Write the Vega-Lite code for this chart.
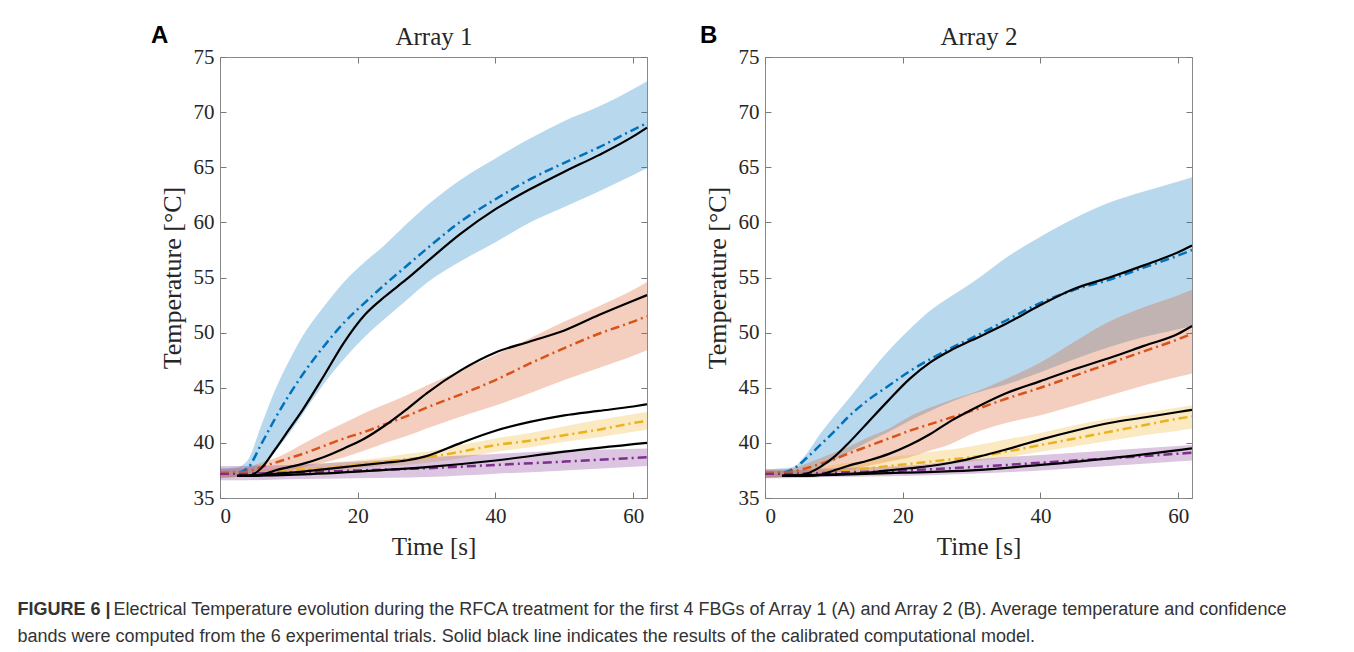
{
  "$schema": "https://vega.github.io/schema/vega-lite/v6.json",
  "background": "white",
  "padding": {"left": 17, "top": 23, "right": 10, "bottom": 6},
  "config": {
    "view": {"stroke": "#8a8a8a", "strokeWidth": 1},
    "axis": {
      "grid": false, "domain": false,
      "labelFont": "Liberation Serif", "titleFont": "Liberation Serif",
      "labelFontSize": 21, "titleFontSize": 25, "titleFontWeight": "normal",
      "labelColor": "#262626", "titleColor": "#262626",
      "tickColor": "#7a7a7a", "tickSize": -6, "tickWidth": 1, "labelPadding": 13
    }
  },
  "datasets": {
    "d": [
      {"p":"A","s":"FBG1","t":0,"lo":36.8,"hi":37.7,"m":37.2,"c":null},
      {"p":"A","s":"FBG1","t":2.5,"lo":36.9,"hi":37.8,"m":37.3,"c":37.0},
      {"p":"A","s":"FBG1","t":4,"lo":37.1,"hi":38.4,"m":37.7,"c":37.0},
      {"p":"A","s":"FBG1","t":6,"lo":37.8,"hi":41.6,"m":39.9,"c":37.7},
      {"p":"A","s":"FBG1","t":8,"lo":39.2,"hi":44.8,"m":42.2,"c":39.4},
      {"p":"A","s":"FBG1","t":10,"lo":40.8,"hi":47.4,"m":44.3,"c":41.2},
      {"p":"A","s":"FBG1","t":12,"lo":42.6,"hi":49.7,"m":46.2,"c":43.0},
      {"p":"A","s":"FBG1","t":15,"lo":45.3,"hi":52.3,"m":48.7,"c":46.0},
      {"p":"A","s":"FBG1","t":18,"lo":47.6,"hi":54.6,"m":50.9,"c":49.1},
      {"p":"A","s":"FBG1","t":21,"lo":49.6,"hi":56.4,"m":52.7,"c":51.6},
      {"p":"A","s":"FBG1","t":24,"lo":51.3,"hi":58.0,"m":54.4,"c":53.3},
      {"p":"A","s":"FBG1","t":27,"lo":52.9,"hi":59.8,"m":56.0,"c":54.8},
      {"p":"A","s":"FBG1","t":30,"lo":54.5,"hi":61.5,"m":57.6,"c":56.4},
      {"p":"A","s":"FBG1","t":35,"lo":56.5,"hi":63.9,"m":60.1,"c":59.0},
      {"p":"A","s":"FBG1","t":40,"lo":58.2,"hi":65.8,"m":62.1,"c":61.2},
      {"p":"A","s":"FBG1","t":45,"lo":60.0,"hi":67.6,"m":63.9,"c":63.0},
      {"p":"A","s":"FBG1","t":50,"lo":61.4,"hi":69.2,"m":65.4,"c":64.6},
      {"p":"A","s":"FBG1","t":55,"lo":62.8,"hi":70.5,"m":66.8,"c":66.1},
      {"p":"A","s":"FBG1","t":60,"lo":64.3,"hi":72.1,"m":68.4,"c":67.8},
      {"p":"A","s":"FBG1","t":62,"lo":64.9,"hi":72.8,"m":69.0,"c":68.6},

      {"p":"A","s":"FBG2","t":0,"lo":36.9,"hi":37.6,"m":37.3,"c":null},
      {"p":"A","s":"FBG2","t":2.5,"lo":36.9,"hi":37.7,"m":37.3,"c":37.0},
      {"p":"A","s":"FBG2","t":4,"lo":37.0,"hi":37.8,"m":37.4,"c":37.0},
      {"p":"A","s":"FBG2","t":6,"lo":37.1,"hi":38.2,"m":37.8,"c":37.1},
      {"p":"A","s":"FBG2","t":8,"lo":37.3,"hi":38.6,"m":38.2,"c":37.5},
      {"p":"A","s":"FBG2","t":10,"lo":37.5,"hi":39.2,"m":38.6,"c":37.8},
      {"p":"A","s":"FBG2","t":12,"lo":37.8,"hi":39.9,"m":39.0,"c":38.1},
      {"p":"A","s":"FBG2","t":15,"lo":38.2,"hi":40.9,"m":39.7,"c":38.7},
      {"p":"A","s":"FBG2","t":18,"lo":38.7,"hi":41.8,"m":40.4,"c":39.5},
      {"p":"A","s":"FBG2","t":21,"lo":39.3,"hi":42.7,"m":41.0,"c":40.4},
      {"p":"A","s":"FBG2","t":24,"lo":40.0,"hi":43.5,"m":41.7,"c":41.6},
      {"p":"A","s":"FBG2","t":27,"lo":40.6,"hi":44.3,"m":42.4,"c":43.0},
      {"p":"A","s":"FBG2","t":30,"lo":41.3,"hi":45.2,"m":43.2,"c":44.5},
      {"p":"A","s":"FBG2","t":35,"lo":42.4,"hi":46.6,"m":44.4,"c":46.6},
      {"p":"A","s":"FBG2","t":40,"lo":43.4,"hi":48.0,"m":45.7,"c":48.2},
      {"p":"A","s":"FBG2","t":45,"lo":44.5,"hi":49.5,"m":47.2,"c":49.2},
      {"p":"A","s":"FBG2","t":50,"lo":45.7,"hi":51.0,"m":48.6,"c":50.2},
      {"p":"A","s":"FBG2","t":55,"lo":46.8,"hi":52.4,"m":49.9,"c":51.6},
      {"p":"A","s":"FBG2","t":60,"lo":47.9,"hi":53.9,"m":51.0,"c":52.9},
      {"p":"A","s":"FBG2","t":62,"lo":48.4,"hi":54.6,"m":51.5,"c":53.4},

      {"p":"A","s":"FBG3","t":0,"lo":36.9,"hi":37.5,"m":37.2,"c":null},
      {"p":"A","s":"FBG3","t":2.5,"lo":36.9,"hi":37.5,"m":37.2,"c":37.0},
      {"p":"A","s":"FBG3","t":4,"lo":36.9,"hi":37.5,"m":37.2,"c":37.0},
      {"p":"A","s":"FBG3","t":8,"lo":37.0,"hi":37.7,"m":37.4,"c":37.2},
      {"p":"A","s":"FBG3","t":12,"lo":37.2,"hi":37.9,"m":37.6,"c":37.4},
      {"p":"A","s":"FBG3","t":15,"lo":37.3,"hi":38.1,"m":37.7,"c":37.6},
      {"p":"A","s":"FBG3","t":18,"lo":37.5,"hi":38.3,"m":37.9,"c":37.8},
      {"p":"A","s":"FBG3","t":21,"lo":37.7,"hi":38.5,"m":38.1,"c":38.0},
      {"p":"A","s":"FBG3","t":24,"lo":37.9,"hi":38.7,"m":38.3,"c":38.2},
      {"p":"A","s":"FBG3","t":27,"lo":38.0,"hi":39.0,"m":38.5,"c":38.4},
      {"p":"A","s":"FBG3","t":30,"lo":38.2,"hi":39.2,"m":38.7,"c":38.8},
      {"p":"A","s":"FBG3","t":35,"lo":38.6,"hi":39.8,"m":39.2,"c":40.0},
      {"p":"A","s":"FBG3","t":40,"lo":39.2,"hi":40.4,"m":39.8,"c":41.1},
      {"p":"A","s":"FBG3","t":45,"lo":39.6,"hi":40.9,"m":40.2,"c":41.9},
      {"p":"A","s":"FBG3","t":50,"lo":40.1,"hi":41.5,"m":40.7,"c":42.5},
      {"p":"A","s":"FBG3","t":55,"lo":40.5,"hi":42.1,"m":41.2,"c":42.9},
      {"p":"A","s":"FBG3","t":60,"lo":41.0,"hi":42.6,"m":41.8,"c":43.3},
      {"p":"A","s":"FBG3","t":62,"lo":41.2,"hi":42.8,"m":42.0,"c":43.5},

      {"p":"A","s":"FBG4","t":0,"lo":36.6,"hi":37.9,"m":37.2,"c":null},
      {"p":"A","s":"FBG4","t":2.5,"lo":36.6,"hi":37.9,"m":37.2,"c":37.0},
      {"p":"A","s":"FBG4","t":10,"lo":36.7,"hi":38.0,"m":37.3,"c":37.1},
      {"p":"A","s":"FBG4","t":20,"lo":36.8,"hi":38.3,"m":37.5,"c":37.4},
      {"p":"A","s":"FBG4","t":30,"lo":36.9,"hi":38.7,"m":37.7,"c":37.8},
      {"p":"A","s":"FBG4","t":40,"lo":37.2,"hi":39.0,"m":38.0,"c":38.4},
      {"p":"A","s":"FBG4","t":50,"lo":37.5,"hi":39.3,"m":38.3,"c":39.2},
      {"p":"A","s":"FBG4","t":62,"lo":37.9,"hi":39.5,"m":38.7,"c":40.0},

      {"p":"B","s":"FBG1","t":0,"lo":36.8,"hi":37.6,"m":37.2,"c":null},
      {"p":"B","s":"FBG1","t":2.5,"lo":36.9,"hi":37.7,"m":37.3,"c":37.0},
      {"p":"B","s":"FBG1","t":4,"lo":37.0,"hi":37.8,"m":37.6,"c":37.0},
      {"p":"B","s":"FBG1","t":6,"lo":37.3,"hi":39.0,"m":38.6,"c":37.2},
      {"p":"B","s":"FBG1","t":8,"lo":37.8,"hi":40.8,"m":39.8,"c":37.8},
      {"p":"B","s":"FBG1","t":10,"lo":38.4,"hi":42.4,"m":41.0,"c":38.7},
      {"p":"B","s":"FBG1","t":12,"lo":39.1,"hi":43.9,"m":42.3,"c":39.9},
      {"p":"B","s":"FBG1","t":15,"lo":40.1,"hi":46.2,"m":43.9,"c":41.9},
      {"p":"B","s":"FBG1","t":18,"lo":41.0,"hi":48.4,"m":45.2,"c":43.9},
      {"p":"B","s":"FBG1","t":21,"lo":42.0,"hi":50.3,"m":46.5,"c":45.8},
      {"p":"B","s":"FBG1","t":24,"lo":42.9,"hi":52.0,"m":47.6,"c":47.3},
      {"p":"B","s":"FBG1","t":27,"lo":43.7,"hi":53.3,"m":48.6,"c":48.4},
      {"p":"B","s":"FBG1","t":30,"lo":44.4,"hi":54.5,"m":49.5,"c":49.3},
      {"p":"B","s":"FBG1","t":35,"lo":45.3,"hi":56.8,"m":51.1,"c":50.8},
      {"p":"B","s":"FBG1","t":40,"lo":46.4,"hi":58.7,"m":52.7,"c":52.5},
      {"p":"B","s":"FBG1","t":45,"lo":47.6,"hi":60.4,"m":53.9,"c":54.0},
      {"p":"B","s":"FBG1","t":50,"lo":48.7,"hi":61.8,"m":54.8,"c":55.0},
      {"p":"B","s":"FBG1","t":55,"lo":49.6,"hi":62.8,"m":55.9,"c":56.1},
      {"p":"B","s":"FBG1","t":60,"lo":50.3,"hi":63.7,"m":57.0,"c":57.3},
      {"p":"B","s":"FBG1","t":62,"lo":50.6,"hi":64.1,"m":57.5,"c":57.9},

      {"p":"B","s":"FBG2","t":0,"lo":36.9,"hi":37.6,"m":37.3,"c":null},
      {"p":"B","s":"FBG2","t":2.5,"lo":36.9,"hi":37.6,"m":37.3,"c":37.0},
      {"p":"B","s":"FBG2","t":4,"lo":37.0,"hi":37.7,"m":37.4,"c":37.0},
      {"p":"B","s":"FBG2","t":6,"lo":37.1,"hi":38.1,"m":37.7,"c":37.0},
      {"p":"B","s":"FBG2","t":8,"lo":37.2,"hi":38.6,"m":38.1,"c":37.1},
      {"p":"B","s":"FBG2","t":10,"lo":37.3,"hi":39.1,"m":38.5,"c":37.5},
      {"p":"B","s":"FBG2","t":12,"lo":37.5,"hi":39.6,"m":39.0,"c":37.9},
      {"p":"B","s":"FBG2","t":15,"lo":37.9,"hi":40.5,"m":39.7,"c":38.4},
      {"p":"B","s":"FBG2","t":18,"lo":38.3,"hi":41.3,"m":40.4,"c":39.0},
      {"p":"B","s":"FBG2","t":21,"lo":38.7,"hi":42.4,"m":41.1,"c":39.8},
      {"p":"B","s":"FBG2","t":24,"lo":39.3,"hi":43.2,"m":41.7,"c":40.8},
      {"p":"B","s":"FBG2","t":27,"lo":39.9,"hi":43.9,"m":42.3,"c":42.0},
      {"p":"B","s":"FBG2","t":30,"lo":40.8,"hi":44.5,"m":42.9,"c":43.0},
      {"p":"B","s":"FBG2","t":35,"lo":41.8,"hi":45.8,"m":44.0,"c":44.5},
      {"p":"B","s":"FBG2","t":40,"lo":42.5,"hi":47.3,"m":45.0,"c":45.6},
      {"p":"B","s":"FBG2","t":45,"lo":43.4,"hi":49.2,"m":46.1,"c":46.7},
      {"p":"B","s":"FBG2","t":50,"lo":44.3,"hi":51.0,"m":47.2,"c":47.7},
      {"p":"B","s":"FBG2","t":55,"lo":45.2,"hi":52.3,"m":48.3,"c":48.8},
      {"p":"B","s":"FBG2","t":60,"lo":46.0,"hi":53.4,"m":49.4,"c":49.9},
      {"p":"B","s":"FBG2","t":62,"lo":46.3,"hi":53.9,"m":49.9,"c":50.6},

      {"p":"B","s":"FBG3","t":0,"lo":36.9,"hi":37.5,"m":37.2,"c":null},
      {"p":"B","s":"FBG3","t":2.5,"lo":36.9,"hi":37.5,"m":37.2,"c":37.0},
      {"p":"B","s":"FBG3","t":8,"lo":37.0,"hi":37.8,"m":37.3,"c":37.1},
      {"p":"B","s":"FBG3","t":12,"lo":37.2,"hi":38.2,"m":37.5,"c":37.2},
      {"p":"B","s":"FBG3","t":15,"lo":37.3,"hi":38.4,"m":37.7,"c":37.3},
      {"p":"B","s":"FBG3","t":18,"lo":37.5,"hi":38.7,"m":37.9,"c":37.5},
      {"p":"B","s":"FBG3","t":21,"lo":37.7,"hi":38.9,"m":38.1,"c":37.7},
      {"p":"B","s":"FBG3","t":24,"lo":37.9,"hi":39.2,"m":38.3,"c":37.9},
      {"p":"B","s":"FBG3","t":27,"lo":38.1,"hi":39.4,"m":38.5,"c":38.2},
      {"p":"B","s":"FBG3","t":30,"lo":38.3,"hi":39.7,"m":38.7,"c":38.6},
      {"p":"B","s":"FBG3","t":35,"lo":38.7,"hi":40.3,"m":39.2,"c":39.4},
      {"p":"B","s":"FBG3","t":40,"lo":39.2,"hi":40.9,"m":39.8,"c":40.3},
      {"p":"B","s":"FBG3","t":45,"lo":39.7,"hi":41.6,"m":40.4,"c":41.1},
      {"p":"B","s":"FBG3","t":50,"lo":40.2,"hi":42.2,"m":41.0,"c":41.8},
      {"p":"B","s":"FBG3","t":55,"lo":40.7,"hi":42.7,"m":41.6,"c":42.3},
      {"p":"B","s":"FBG3","t":60,"lo":41.1,"hi":43.2,"m":42.2,"c":42.8},
      {"p":"B","s":"FBG3","t":62,"lo":41.3,"hi":43.4,"m":42.4,"c":43.0},

      {"p":"B","s":"FBG4","t":0,"lo":36.8,"hi":37.5,"m":37.2,"c":null},
      {"p":"B","s":"FBG4","t":2.5,"lo":36.8,"hi":37.5,"m":37.2,"c":37.0},
      {"p":"B","s":"FBG4","t":10,"lo":36.9,"hi":37.7,"m":37.3,"c":37.1},
      {"p":"B","s":"FBG4","t":20,"lo":37.0,"hi":37.9,"m":37.5,"c":37.3},
      {"p":"B","s":"FBG4","t":30,"lo":37.2,"hi":38.5,"m":37.8,"c":37.5},
      {"p":"B","s":"FBG4","t":40,"lo":37.5,"hi":38.9,"m":38.2,"c":38.0},
      {"p":"B","s":"FBG4","t":50,"lo":37.9,"hi":39.3,"m":38.6,"c":38.6},
      {"p":"B","s":"FBG4","t":62,"lo":38.4,"hi":39.8,"m":39.1,"c":39.5}
    ]
  },
  "title": {
    "text": "bands were computed from the 6 experimental trials. Solid black line indicates the results of the calibrated computational model.",
    "orient": "bottom", "anchor": "start", "frame": "bounds", "offset": 9,
    "font": "Liberation Sans", "fontSize": 18, "fontWeight": "normal", "color": "#333333", "baseline": "top"
  },
  "vconcat": [
    {
      "title": {
        "text": "Electrical Temperature evolution during the RFCA treatment for the first 4 FBGs of Array 1 (A) and Array 2 (B). Average temperature and confidence",
        "orient": "bottom", "anchor": "start", "frame": "bounds", "offset": 0, "dx": 96, "dy": -18,
        "font": "Liberation Sans", "fontSize": 18, "fontWeight": "normal", "color": "#333333", "baseline": "top"
      },
      "vconcat": [
        {
          "title": {
            "text": "FIGURE 6 |",
            "orient": "bottom", "anchor": "start", "frame": "bounds", "offset": 41, "dx": -133,
            "font": "Liberation Sans", "fontSize": 18, "fontWeight": "bold", "color": "#333333", "baseline": "top"
          },
          "spacing": 46,
          "hconcat": [
            {
              "width": 427, "height": 441,
              "title": {"text": "A", "anchor": "start", "frame": "group", "dx": -69, "dy": 27, "font": "Liberation Sans", "fontSize": 24, "fontWeight": "bold", "color": "#000000"},
              "data": {"name": "d"},
              "transform": [{"filter": "datum.p == 'A'"}],
              "layer": [
                {
                  "mark": {"type": "area", "opacity": 0.28, "interpolate": "monotone"},
                  "encoding": {
                    "x": {"field": "t", "type": "quantitative", "scale": {"domain": [0, 62], "nice": false, "zero": false},
                          "axis": {"orient": "bottom", "values": [0, 20, 40, 60], "title": "Time [s]", "titlePadding": 8}},
                    "y": {"field": "lo", "type": "quantitative", "scale": {"domain": [35, 75], "nice": false, "zero": false},
                          "axis": {"orient": "left", "values": [35, 40, 45, 50, 55, 60, 65, 70, 75], "title": "Temperature [°C]", "labelPadding": 12, "titlePadding": 8, "titleFontSize": 26}},
                    "y2": {"field": "hi"},
                    "color": {"field": "s", "type": "nominal", "legend": null,
                              "scale": {"domain": ["FBG1", "FBG2", "FBG3", "FBG4"], "range": ["#0072BD", "#D95319", "#EDB120", "#7E2F8E"]}}
                  }
                },
                {
                  "mark": {"type": "line", "strokeWidth": 2.5, "strokeDash": [9, 4, 2, 4], "interpolate": "monotone"},
                  "encoding": {
                    "x": {"field": "t", "type": "quantitative", "axis": {"orient": "top", "values": [0, 20, 40, 60], "labels": false, "title": "Array 1", "titlePadding": 7}},
                    "y": {"field": "m", "type": "quantitative", "axis": {"orient": "right", "values": [35, 40, 45, 50, 55, 60, 65, 70, 75], "labels": false, "title": null}},
                    "color": {"field": "s", "type": "nominal", "legend": null}
                  }
                },
                {
                  "mark": {"type": "line", "color": "#000000", "strokeWidth": 2.2, "interpolate": "monotone"},
                  "encoding": {
                    "x": {"field": "t", "type": "quantitative", "axis": null},
                    "y": {"field": "c", "type": "quantitative", "axis": null},
                    "detail": {"field": "s"}
                  }
                }
              ],
              "resolve": {"axis": {"x": "independent", "y": "independent"}}
            },
            {
              "width": 427, "height": 441,
              "title": {"text": "B", "anchor": "start", "frame": "group", "dx": -65, "dy": 27, "font": "Liberation Sans", "fontSize": 24, "fontWeight": "bold", "color": "#000000"},
              "data": {"name": "d"},
              "transform": [{"filter": "datum.p == 'B'"}],
              "layer": [
                {
                  "mark": {"type": "area", "opacity": 0.28, "interpolate": "monotone"},
                  "encoding": {
                    "x": {"field": "t", "type": "quantitative", "scale": {"domain": [0, 62], "nice": false, "zero": false},
                          "axis": {"orient": "bottom", "values": [0, 20, 40, 60], "title": "Time [s]", "titlePadding": 8}},
                    "y": {"field": "lo", "type": "quantitative", "scale": {"domain": [35, 75], "nice": false, "zero": false},
                          "axis": {"orient": "left", "values": [35, 40, 45, 50, 55, 60, 65, 70, 75], "title": "Temperature [°C]", "labelPadding": 12, "titlePadding": 8, "titleFontSize": 26}},
                    "y2": {"field": "hi"},
                    "color": {"field": "s", "type": "nominal", "legend": null,
                              "scale": {"domain": ["FBG1", "FBG2", "FBG3", "FBG4"], "range": ["#0072BD", "#D95319", "#EDB120", "#7E2F8E"]}}
                  }
                },
                {
                  "mark": {"type": "line", "strokeWidth": 2.5, "strokeDash": [9, 4, 2, 4], "interpolate": "monotone"},
                  "encoding": {
                    "x": {"field": "t", "type": "quantitative", "axis": {"orient": "top", "values": [0, 20, 40, 60], "labels": false, "title": "Array 2", "titlePadding": 7}},
                    "y": {"field": "m", "type": "quantitative", "axis": {"orient": "right", "values": [35, 40, 45, 50, 55, 60, 65, 70, 75], "labels": false, "title": null}},
                    "color": {"field": "s", "type": "nominal", "legend": null}
                  }
                },
                {
                  "mark": {"type": "line", "color": "#000000", "strokeWidth": 2.2, "interpolate": "monotone"},
                  "encoding": {
                    "x": {"field": "t", "type": "quantitative", "axis": null},
                    "y": {"field": "c", "type": "quantitative", "axis": null},
                    "detail": {"field": "s"}
                  }
                }
              ],
              "resolve": {"axis": {"x": "independent", "y": "independent"}}
            }
          ]
        }
      ]
    }
  ]
}
